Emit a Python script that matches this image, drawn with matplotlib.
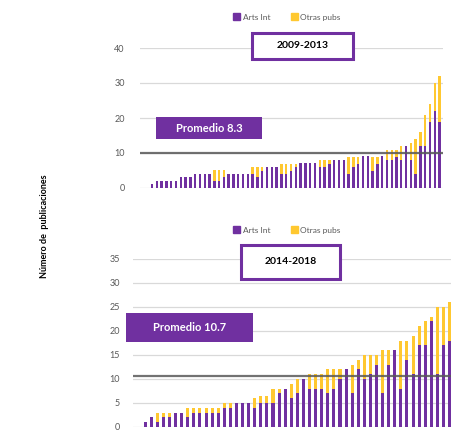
import numpy as np
import matplotlib.pyplot as plt
from matplotlib.patches import Rectangle, Patch

plt.rcParams['font.family'] = ['Lato', 'DejaVu Sans']

# 2009-2013: articulos internacionales y total de publicaciones por investigador
arts_0913 = [1, 2, 2, 2, 2, 2, 3, 3, 3, 4, 4, 4, 4, 2, 2, 3, 4, 4, 4, 4, 4,
             4, 3, 5, 6, 6, 6, 4, 4, 5, 6, 7, 7, 7, 7, 6, 6, 7, 8, 8,
             8, 4, 6, 7, 9, 9, 5, 7, 9, 8, 8, 9, 8, 12, 8, 4, 12, 12, 19, 22, 19]
total_0913 = [1, 2, 2, 2, 2, 2, 3, 3, 3, 4, 4, 4, 4, 5, 5, 5, 4, 4, 4, 4, 4,
              6, 6, 6, 6, 6, 6, 7, 7, 7, 7, 7, 7, 7, 7, 8, 8, 8, 8, 8,
              8, 9, 9, 9, 9, 9, 9, 9, 9, 11, 11, 11, 12, 12, 13, 14, 16, 21, 24, 30, 32]

# 2014-2018
arts_1418 = [1, 2, 1, 2, 2, 3, 3, 2, 3, 3, 3, 3, 3, 4, 4, 5, 5, 5,
             4, 5, 5, 5, 7, 8, 6, 7, 10, 8, 8, 8, 7, 8, 10, 12,
             7, 12, 10, 11, 13, 7, 13, 16, 8, 14, 11, 17, 17, 22, 11, 17, 18]
total_1418 = [1, 2, 3, 3, 3, 3, 3, 4, 4, 4, 4, 4, 4, 5, 5, 5, 5, 5,
              6, 6.5, 6.5, 8, 8, 8, 9, 10, 10, 11, 11, 11, 12, 12, 12, 12,
              13, 14, 15, 15, 15, 16, 16, 16, 18, 18, 19, 21, 22, 23, 25, 25, 26]

periodos = ['2009-2013', '2014-2018']
promedios = ['Promedio 8.3', 'Promedio 10.7']
linea_prom = [9.9, 10.7]
yticks_0913 = [0, 10, 20, 30, 40]
yticks_1418 = [0, 5, 10, 15, 20, 25, 30, 35]

purple = '#7030A0'
yellow = '#FFC830'
W, H = 452, 432


def box(x0, y0, x1, y1):
    # pixel box -> figure coords
    return [x0 / W, 1 - y1 / H, (x1 - x0) / W, (y1 - y0) / H]


def draw(ax, arts, total, ticks, xlim, avg, pad):
    x = np.arange(len(arts))
    arts = np.array(arts)
    otras = np.array(total) - arts
    ax.bar(x, arts, 0.5, color=purple, zorder=3)
    ax.bar(x, otras, 0.5, bottom=arts, color=yellow, zorder=3)
    ax.set_xlim(*xlim)
    ax.set_ylim(0, ticks[-1])
    ax.set_yticks(ticks)
    ax.set_xticks([])
    ax.grid(axis='y', color='#D9D9D9', lw=0.9)
    ax.set_axisbelow(True)
    for s in ax.spines.values():
        s.set_visible(False)
    ax.tick_params(axis='y', length=0, labelsize=6.5, labelcolor='#595959', pad=pad)
    ax.axhline(avg, color='#595959', lw=1.6, alpha=0.85, zorder=4)


fig = plt.figure(figsize=(W / 100, H / 100), dpi=100)
ax1 = fig.add_axes(box(140, 48, 443, 188))
ax2 = fig.add_axes(box(133, 259, 452, 427))

draw(ax1, arts_0913, total_0913, yticks_0913, (-2.5, 60.7), linea_prom[0], 11)
draw(ax2, arts_1418, total_1418, yticks_1418, (-2.0, 50.4), linea_prom[1], 9.5)

handles = [Patch(color=purple, label='Arts Int'), Patch(color=yellow, label='Otras pubs')]
for yc in [17, 230]:
    fig.legend(handles=handles, loc='center', bbox_to_anchor=(0.635, 1 - yc / H),
               ncol=2, frameon=False, fontsize=6, handlelength=0.8, handleheight=0.8,
               columnspacing=2.5, handletextpad=0.3, labelcolor='#595959')

# cajas de periodo
for (x0, y0, x1, y1), txt in zip([(252, 33, 353, 59), (241, 245, 340, 279)], periodos):
    b = box(x0, y0, x1, y1)
    fig.add_artist(Rectangle((b[0], b[1]), b[2], b[3], transform=fig.transFigure,
                             facecolor='white', edgecolor=purple, lw=2.2, zorder=5))
    fig.text(b[0] + b[2] / 2, b[1] + b[3] / 2, txt, ha='center', va='center',
             fontsize=7.5, fontweight='bold', color='black', zorder=6)

# cajas de promedio
for (x0, y0, x1, y1), txt in zip([(156, 117, 262, 139), (126, 313, 253, 342)], promedios):
    b = box(x0, y0, x1, y1)
    fig.add_artist(Rectangle((b[0], b[1]), b[2], b[3], transform=fig.transFigure,
                             facecolor=purple, edgecolor='none', zorder=5))
    fig.text(b[0] + b[2] / 2, b[1] + b[3] / 2, txt, ha='center', va='center',
             fontsize=8, fontweight='bold', color='white', zorder=6)

fig.text(45 / W, 1 - 226 / H, 'Número de  publicaciones', rotation=90,
         ha='center', va='center', fontsize=6.5, fontweight='bold')

plt.savefig('out.png', dpi=100)
